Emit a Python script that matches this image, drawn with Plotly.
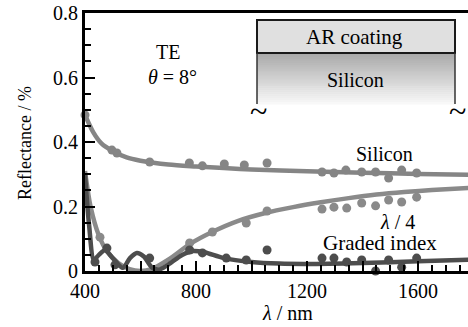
import plotly.graph_objects as go

# ---- data ----
si_curve_x = [400, 430, 460, 500, 550, 600, 700, 800, 900, 1000, 1200, 1400, 1600, 1800]
si_curve_y = [0.484, 0.43, 0.395, 0.372, 0.352, 0.342, 0.33, 0.324, 0.319, 0.315, 0.309, 0.305, 0.301, 0.298]
si_dots_x = [400, 497, 515, 633, 776, 823, 902, 974, 1056, 1254, 1297, 1340, 1397, 1447, 1494, 1541, 1595]
si_dots_y = [0.484, 0.375, 0.366, 0.338, 0.335, 0.326, 0.332, 0.329, 0.335, 0.307, 0.304, 0.313, 0.307, 0.307, 0.288, 0.313, 0.304]

q_curve_x = [400, 420, 450, 480, 520, 560, 600, 640, 700, 780, 860, 950, 1050, 1150, 1250, 1350, 1450, 1550, 1650, 1800]
q_curve_y = [0.31, 0.2, 0.11, 0.06, 0.025, 0.006, 0.0, 0.006, 0.035, 0.085, 0.122, 0.155, 0.18, 0.198, 0.213, 0.226, 0.237, 0.245, 0.251, 0.258]
q_dots_x = [454, 777, 859, 981, 1056, 1254, 1297, 1343, 1397, 1447, 1494, 1541, 1595]
q_dots_y = [0.105, 0.087, 0.121, 0.149, 0.186, 0.192, 0.198, 0.195, 0.211, 0.202, 0.220, 0.214, 0.229]

g_curve_x = [400, 415, 432, 450, 472, 500, 536, 562, 587, 612, 640, 665, 700, 750, 790, 830, 900, 1000, 1100, 1200, 1400, 1600, 1800]
g_curve_y = [0.30, 0.14, 0.035, 0.05, 0.064, 0.04, 0.01, 0.04, 0.056, 0.045, 0.012, 0.004, 0.02, 0.05, 0.062, 0.058, 0.04, 0.028, 0.023, 0.022, 0.025, 0.03, 0.035]
g_dots_x = [436, 479, 508, 633, 777, 823, 909, 981, 1056, 1254, 1297, 1343, 1397, 1447, 1494, 1541, 1595]
g_dots_y = [0.028, 0.071, 0.019, 0.040, 0.065, 0.056, 0.040, 0.034, 0.065, 0.040, 0.040, 0.028, 0.034, 0.0, 0.034, 0.012, 0.040]

x_tickvals = [400, 600, 800, 1000, 1200, 1400, 1600, 1800]
x_ticktext = ["400", "", "800", "", "1200", "", "1600", ""]
y_tickvals = [0, 0.2, 0.4, 0.6, 0.8]
y_ticktext = ["0", "0.2", "0.4", "0.6", "0.8"]

W, H = 468, 327
L, T, B = 85, 13, 271
R = 468
PW, PH = R - L, B - T

def px(x):
    return (x - L) / PW

def py(y):
    return (B - y) / PH

SERIF = "Times New Roman, Liberation Serif, serif"
SI_COL = "#858585"
Q_COL = "#8a8a8a"
G_COL = "#4d4d4d"

fig = go.Figure()
for cx, cy, dx, dy, col in [
    (si_curve_x, si_curve_y, si_dots_x, si_dots_y, SI_COL),
    (q_curve_x, q_curve_y, q_dots_x, q_dots_y, Q_COL),
    (g_curve_x, g_curve_y, g_dots_x, g_dots_y, G_COL),
]:
    fig.add_trace(go.Scatter(x=cx, y=cy, mode="lines",
                             line=dict(color=col, width=4.5, shape="spline", smoothing=0.8),
                             showlegend=False, hoverinfo="skip", cliponaxis=True))
    fig.add_trace(go.Scatter(x=dx, y=dy, mode="markers",
                             marker=dict(color=col, size=9),
                             showlegend=False, hoverinfo="skip", cliponaxis=False))

shapes = []
x0, x1 = px(257), px(455)
top_ar, bot_ar, bot_si = 20, 53, 104
N = 26
for i in range(N):
    ya = bot_ar + (bot_si - bot_ar) * i / N
    yb = bot_ar + (bot_si - bot_ar) * (i + 1) / N
    t = i / (N - 1)
    g = int(170 + (248 - 170) * t)
    shapes.append(dict(type="rect", xref="paper", yref="paper", x0=x0, x1=x1,
                       y0=py(yb + 0.5), y1=py(ya), line=dict(width=0),
                       fillcolor=f"rgb({g},{g},{g})", layer="below"))
shapes.append(dict(type="rect", xref="paper", yref="paper", x0=x0, x1=x1,
                   y0=py(bot_ar), y1=py(top_ar), line=dict(color="#1a1a1a", width=2),
                   fillcolor="#e0e0e0"))
for xx in (257, 455):
    shapes.append(dict(type="line", xref="paper", yref="paper", x0=px(xx), x1=px(xx),
                       y0=py(bot_si), y1=py(bot_ar), line=dict(color="#333", width=1.5)))

annotations = [
    dict(text="TE", x=px(168), y=py(52), font=dict(size=20)),
    dict(text="<i>θ</i> = 8°", x=px(172), y=py(77), font=dict(size=20)),
    dict(text="AR coating", x=px(354), y=py(37), font=dict(size=21)),
    dict(text="Silicon", x=px(355), y=py(80), font=dict(size=20)),
    dict(text="~", x=px(258), y=py(111), font=dict(size=32)),
    dict(text="~", x=px(457), y=py(111), font=dict(size=32)),
    dict(text="Silicon", x=px(384), y=py(154), font=dict(size=20)),
    dict(text="<i>λ</i> / 4", x=px(397), y=py(222), font=dict(size=20)),
    dict(text="Graded index", x=px(380), y=py(243), font=dict(size=21)),
    dict(text="<i>λ</i> / nm", x=px(287), y=py(313), font=dict(size=20)),
    dict(text="Reflectance / %", x=px(25), y=py(143), textangle=-90, font=dict(size=18)),
]
for a in annotations:
    a.update(xref="paper", yref="paper", showarrow=False, xanchor="center", yanchor="middle")
    a["font"].setdefault("family", SERIF)
    a["font"].setdefault("color", "black")

fig.update_layout(
    width=W, height=H,
    margin=dict(l=L, r=W - R, t=T, b=H - B, pad=0, autoexpand=False),
    paper_bgcolor="white", plot_bgcolor="white",
    font=dict(family=SERIF, size=20, color="black"),
    shapes=shapes, annotations=annotations,
    xaxis=dict(range=[400, 1780], tickvals=x_tickvals, ticktext=x_ticktext,
               ticks="inside", ticklen=10, tickwidth=2, tickcolor="black",
               minor=dict(dtick=50, ticks="inside", ticklen=6, tickwidth=2, tickcolor="black"),
               showline=True, linewidth=3, linecolor="black", mirror=True,
               showgrid=False, zeroline=False, automargin=False,
               tickfont=dict(size=20, family=SERIF)),
    yaxis=dict(range=[0, 0.8], tickvals=y_tickvals, ticktext=y_ticktext,
               ticks="inside", ticklen=10, tickwidth=2, tickcolor="black",
               minor=dict(dtick=0.05, ticks="inside", ticklen=6, tickwidth=2, tickcolor="black"),
               showline=True, linewidth=3, linecolor="black", mirror=False,
               showgrid=False, zeroline=False, automargin=False,
               tickfont=dict(size=20, family=SERIF)),
)

fig.write_html("out.html", config={"displayModeBar": False},
               post_script="document.body.style.margin='0';")
